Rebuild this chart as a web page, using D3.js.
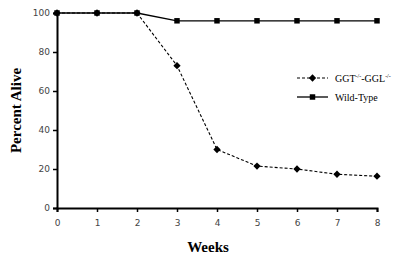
<!DOCTYPE html>
<html>
<head>
<meta charset="utf-8">
<script src="https://cdn.jsdelivr.net/npm/d3@7"></script>
<style>
  body { margin: 0; background: #fff; }
  .tick text { font-family: "DejaVu Sans", sans-serif; font-size: 9px; fill: #444; }
</style>
</head>
<body>
<div id="chart"></div>
<script>
// data
const weeks = [0, 1, 2, 3, 4, 5, 6, 7, 8];
const mutant = [100, 100, 100, 73, 30, 21.5, 20, 17.3, 16.3];
const wildType = [100, 100, 100, 96, 96, 96, 96, 96, 96];
const yTicks = [0, 20, 40, 60, 80, 100];

// set the dimensions and margins of the graph
const margin = {top: 13, right: 23, bottom: 55, left: 57},
    width = 400 - margin.left - margin.right,
    height = 263 - margin.top - margin.bottom;

const svg = d3.select("#chart")
    .append("svg")
    .attr("width", 400)
    .attr("height", 263)
    .append("g")
    .attr("transform", `translate(${margin.left},${margin.top})`);

const x = d3.scaleLinear().domain([0, 8]).range([0, width]);
const y = d3.scaleLinear().domain([0, 100]).range([height, 0]);

// axes
const xAxis = svg.append("g")
    .attr("transform", `translate(0,${height})`)
    .call(d3.axisBottom(x).tickValues(weeks).tickSize(4).tickPadding(8).tickFormat(d3.format("d")));
const yAxis = svg.append("g")
    .call(d3.axisLeft(y).tickValues(yTicks).tickSize(4).tickPadding(3));
[xAxis, yAxis].forEach(a => {
    a.select(".domain").attr("stroke", "#000").attr("stroke-width", 2);
    a.selectAll(".tick line").attr("stroke", "#000").attr("stroke-width", 1.5);
});

// axis labels
svg.append("text")
    .attr("x", width / 2 - 9)
    .attr("y", height + 44)
    .attr("text-anchor", "middle")
    .style("font-family", "Liberation Serif, serif")
    .style("font-weight", "bold")
    .style("font-size", "15px")
    .text("Weeks");

svg.append("text")
    .attr("transform", `translate(${-36},${height / 2}) rotate(-90)`)
    .attr("text-anchor", "middle")
    .style("font-family", "Liberation Serif, serif")
    .style("font-weight", "bold")
    .style("font-size", "15px")
    .text("Percent Alive");

// lines
const line = d3.line().x((d, i) => x(weeks[i])).y(d => y(d));

svg.append("path")
    .datum(wildType)
    .attr("fill", "none")
    .attr("stroke", "#000")
    .attr("stroke-width", 1.3)
    .attr("d", line);

svg.append("path")
    .datum(mutant)
    .attr("fill", "none")
    .attr("stroke", "#000")
    .attr("stroke-width", 1.1)
    .attr("stroke-dasharray", "3,2")
    .attr("d", line);

// markers
const diamond = d3.symbol().type(d3.symbolDiamond2).size(34);
const square = d3.symbol().type(d3.symbolSquare).size(30);

svg.selectAll(".sq")
    .data(wildType)
    .join("path")
    .attr("d", square)
    .attr("transform", (d, i) => `translate(${x(weeks[i])},${y(d)})`)
    .attr("fill", "#000");

svg.selectAll(".dm")
    .data(mutant)
    .join("path")
    .attr("d", diamond)
    .attr("transform", (d, i) => `translate(${x(weeks[i])},${y(d)})`)
    .attr("fill", "#000");

// legend
const lg = svg.append("g").attr("transform", `translate(${240},${65})`);
lg.append("line").attr("x1", 0).attr("x2", 31).attr("y1", 0).attr("y2", 0)
    .attr("stroke", "#000").attr("stroke-width", 1.1).attr("stroke-dasharray", "3,2");
lg.append("path").attr("d", diamond).attr("transform", "translate(15.5,0)").attr("fill", "#000");
const t1 = lg.append("text").attr("x", 38).attr("y", 4)
    .style("font-family", "Liberation Serif, serif").style("font-size", "10px");
t1.append("tspan").text("GGT");
t1.append("tspan").attr("dy", -4).style("font-size", "6px").text("-/-");
t1.append("tspan").attr("dy", 4).text("-GGL");
t1.append("tspan").attr("dy", -4).style("font-size", "6px").text("-/-");

lg.append("line").attr("x1", 0).attr("x2", 31).attr("y1", 19).attr("y2", 19)
    .attr("stroke", "#000").attr("stroke-width", 1.3);
lg.append("path").attr("d", square).attr("transform", "translate(15.5,19)").attr("fill", "#000");
lg.append("text").attr("x", 38).attr("y", 23)
    .style("font-family", "Liberation Serif, serif").style("font-size", "10px")
    .text("Wild-Type");
</script>
</body>
</html>
